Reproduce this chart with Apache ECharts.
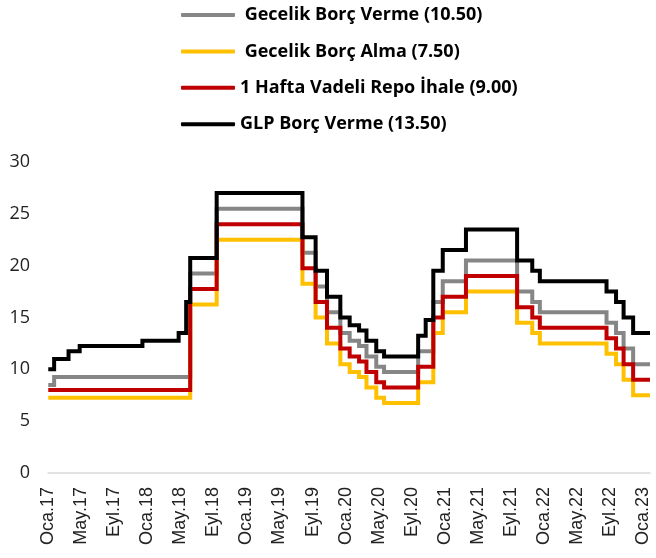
<!DOCTYPE html>
<html>
<head>
<meta charset="utf-8">
<title>Faiz koridoru</title>
<script src="https://cdn.jsdelivr.net/npm/echarts@6/dist/echarts.min.js"></script>
<style>
  html, body { margin: 0; padding: 0; background: #fff; }
  .rates .chart { width: 656px; height: 558px; }
</style>
</head>
<body>
<div class="rates"><div class="chart"></div></div>
<script>
// karar tarihleri (her seride o tarihten itibaren geçerli oran)
var changeDates = ['2017-01-02', '2017-01-24', '2017-03-16', '2017-04-26', '2017-12-14', '2018-04-25',
  '2018-05-23', '2018-06-07', '2018-09-13', '2019-07-25', '2019-09-12', '2019-10-24', '2019-12-12',
  '2020-01-16', '2020-02-19', '2020-03-17', '2020-04-22', '2020-05-21', '2020-09-24', '2020-10-22',
  '2020-11-19', '2020-12-24', '2021-03-18', '2021-09-23', '2021-11-18', '2021-12-16', '2022-08-18',
  '2022-09-22', '2022-10-20', '2022-11-24', '2023-01-26'];

var gecelikVerme = [8.5, 9.25, 9.25, 9.25, 9.25, 9.25, 9.25, 19.25, 25.5, 21.25, 18, 15.5, 13.5,
  12.75, 12.25, 11.25, 10.25, 9.75, 11.75, 11.75, 16.5, 18.5, 20.5, 17.5, 16.5, 15.5, 14.5,
  13.5, 12, 10.5, 10.5];
var gecelikAlma = [7.25, 7.25, 7.25, 7.25, 7.25, 7.25, 7.25, 16.25, 22.5, 18.25, 15, 12.5, 10.5,
  9.75, 9.25, 8.25, 7.25, 6.75, 8.75, 8.75, 13.5, 15.5, 17.5, 14.5, 13.5, 12.5, 11.5,
  10.5, 9, 7.5, 7.5];
var haftalikRepo = [8, 8, 8, 8, 8, 8, 8, 17.75, 24, 19.75, 16.5, 14, 12,
  11.25, 10.75, 9.75, 8.75, 8.25, 10.25, 10.25, 15, 17, 19, 16, 15, 14, 13,
  12, 10.5, 9, 9];
var glpVerme = [10, 11, 11.75, 12.25, 12.75, 13.5, 16.5, 20.75, 27, 22.75, 19.5, 17, 15,
  14.25, 13.75, 12.75, 11.75, 11.25, 13.25, 14.75, 19.5, 21.5, 23.5, 20.5, 19.5, 18.5, 17.5,
  16.5, 15, 13.5, 13.5];

var tickLabels = ['Oca.17', 'May.17', 'Eyl.17', 'Oca.18', 'May.18', 'Eyl.18', 'Oca.19', 'May.19',
  'Eyl.19', 'Oca.20', 'May.20', 'Eyl.20', 'Oca.21', 'May.21', 'Eyl.21', 'Oca.22', 'May.22',
  'Eyl.22', 'Oca.23'];

(function() {
  var myChart = echarts.init(document.querySelector(".rates .chart"));

  // tarih -> Ocak 2017'den itibaren ay (kesirli)
  function toMonth(s) {
    var p = s.split('-');
    var y = +p[0], m = +p[1], d = +p[2];
    var days = new Date(y, m, 0).getDate();
    return (y - 2017) * 12 + (m - 1) + (d - 1) / days;
  }
  var xs = changeDates.map(toMonth);
  function pairs(vals) {
    return vals.map(function(v, i) { return [xs[i], v]; });
  }

  function line(name, color, vals) {
    return {
      name: name,
      type: 'line',
      step: 'end',
      showSymbol: false,
      lineStyle: { color: color, width: 4, cap: 'butt', join: 'miter' },
      itemStyle: { color: color },
      data: pairs(vals)
    };
  }

  var option = {
    animation: false,
    legend: {
      orient: 'vertical',
      left: 181,
      top: 5,
      padding: 0,
      icon: 'roundRect',
      itemWidth: 54,
      itemHeight: 4,
      itemGap: 16.4,
      textStyle: {
        color: '#000',
        fontFamily: 'Open Sans',
        fontWeight: 'bold',
        fontSize: 18,
        lineHeight: 20
      }
    },
    grid: {
      left: 48,
      right: 6,
      top: 162,
      bottom: 85
    },
    xAxis: {
      type: 'value',
      min: 0,
      max: xs[xs.length - 1],
      interval: 4,
      splitLine: { show: false },
      axisTick: { show: false },
      axisLine: { lineStyle: { color: '#d9d9d9', width: 1.5 } },
      axisLabel: {
        rotate: 90,
        margin: 14,
        color: '#222',
        fontFamily: 'Liberation Sans',
        fontSize: 18,
        formatter: function(v) {
          var k = Math.round(v / 4);
          if (Math.abs(v - k * 4) > 0.01) return '';
          return tickLabels[k] || '';
        }
      }
    },
    yAxis: {
      type: 'value',
      min: 0,
      max: 30,
      interval: 5,
      splitLine: { show: false },
      axisLine: { show: false },
      axisTick: { show: false },
      axisLabel: {
        margin: 18,
        color: '#222',
        fontFamily: 'Open Sans',
        fontSize: 18
      }
    },
    series: [
      line(' Gecelik Borç Verme (10.50)', '#868686', gecelikVerme),
      line(' Gecelik Borç Alma (7.50)', '#FFC000', gecelikAlma),
      line('1 Hafta Vadeli Repo İhale (9.00)', '#C00000', haftalikRepo),
      line('GLP Borç Verme (13.50)', '#000000', glpVerme)
    ]
  };

  myChart.setOption(option);
  window.addEventListener("resize", function() {
    myChart.resize();
  });
})();
</script>
</body>
</html>
